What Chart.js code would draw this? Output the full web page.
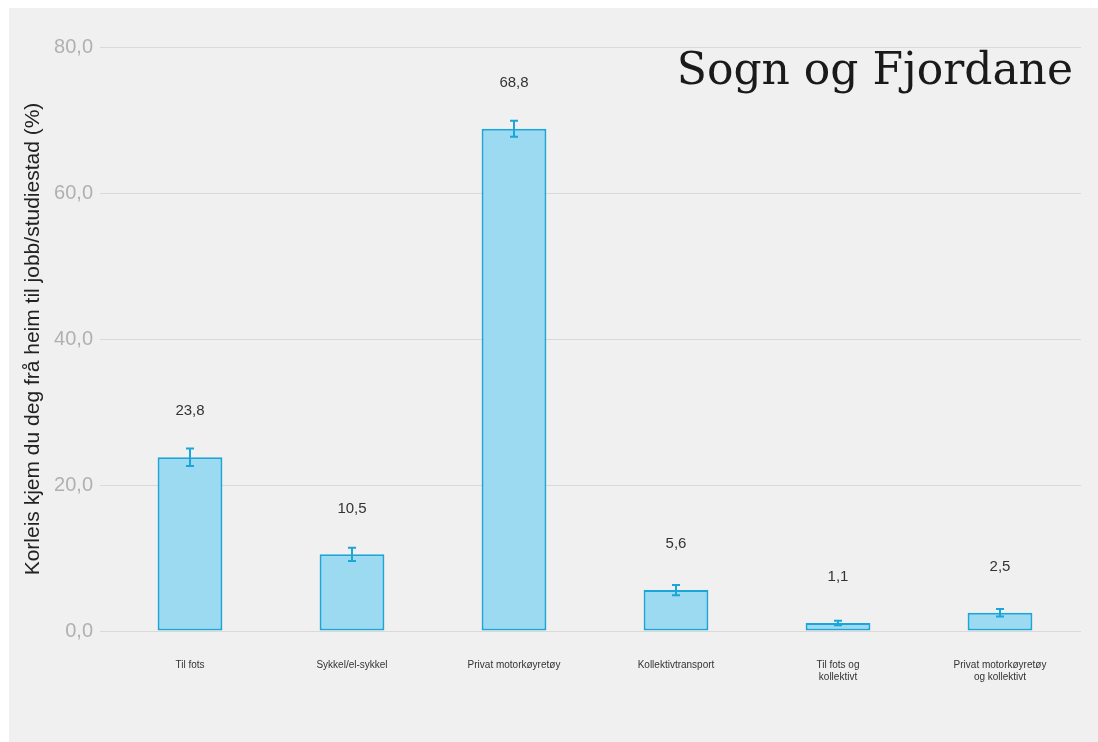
<!DOCTYPE html>
<html>
<head>
    <meta charset="utf-8">
    <script src="https://cdn.jsdelivr.net/npm/chart.js@4.4.1/dist/chart.umd.min.js"></script>
    <style>
        html, body {
            margin: 0;
            padding: 0;
            background: #ffffff;
            width: 1098px;
            height: 742px;
            overflow: hidden;
        }

        .panel {
            position: absolute;
            left: 9px;
            top: 8px;
            width: 1089px;
            height: 734px;
            background: #f0f0f0;
        }

        .title {
            position: absolute;
            right: 25px;
            top: 47px;
            font-family: "DejaVu Serif", serif;
            font-size: 44px;
            line-height: 1;
            color: #1a1a1a;
            white-space: nowrap;
        }
    </style>
</head>

<body>
    <div class="panel">
        <canvas id="chart" width="1089" height="734"></canvas>
    </div>
    <div class="title">Sogn og Fjordane</div>
    <script>
        // data
        const categories = [
            "Til fots",
            "Sykkel/el-sykkel",
            "Privat motorkøyretøy",
            "Kollektivtransport",
            ["Til fots og", "kollektivt"],
            ["Privat motorkøyretøy", "og kollektivt"]
        ];
        const shares = [23.8, 10.5, 68.8, 5.6, 1.1, 2.5];
        const errLow = [22.6, 9.6, 67.7, 4.9, 0.8, 2.0];
        const errHigh = [25.0, 11.4, 69.9, 6.3, 1.4, 3.0];
        const yTicks = [0, 20, 40, 60, 80];
        const yTitle = "Korleis kjem du deg frå heim til jobb/studiestad (%)";

        const blue = "#1ba5d8";

        function fmt(v) {
            return v.toFixed(1).replace(".", ",");
        }

        // error bars and the value labels above each bar
        const extras = {
            id: "extras",
            afterDatasetsDraw(chart) {
                const ctx = chart.ctx;
                const x = chart.scales.x;
                const y = chart.scales.y;
                ctx.save();
                ctx.strokeStyle = blue;
                ctx.lineWidth = 2;
                for (let i = 0; i < shares.length; i++) {
                    const px = x.getPixelForValue(i);
                    const top = y.getPixelForValue(errHigh[i]);
                    const bot = y.getPixelForValue(errLow[i]);
                    ctx.beginPath();
                    ctx.moveTo(px, top);
                    ctx.lineTo(px, bot);
                    ctx.moveTo(px - 4, top);
                    ctx.lineTo(px + 4, top);
                    ctx.moveTo(px - 4, bot);
                    ctx.lineTo(px + 4, bot);
                    ctx.stroke();
                }
                ctx.fillStyle = "#333333";
                ctx.font = "15px 'Liberation Sans', Arial, sans-serif";
                ctx.textAlign = "center";
                ctx.textBaseline = "middle";
                for (let i = 0; i < shares.length; i++) {
                    const px = x.getPixelForValue(i);
                    const py = y.getPixelForValue(shares[i] + 6.3);
                    ctx.fillText(fmt(shares[i]), px, py);
                }
                ctx.restore();
            }
        };

        new Chart(document.getElementById("chart").getContext("2d"), {
            type: "bar",
            data: {
                labels: categories,
                datasets: [
                    {
                        data: shares,
                        backgroundColor: "#9bdaf1",
                        borderColor: blue,
                        borderWidth: 2,
                        borderSkipped: false,
                        categoryPercentage: 1,
                        barPercentage: 0.4
                    }
                ]
            },
            options: {
                responsive: false,
                animation: false,
                events: [],
                layout: {
                    padding: { left: 8, right: 17, top: 39, bottom: 0 }
                },
                plugins: {
                    legend: { display: false },
                    tooltip: { enabled: false }
                },
                scales: {
                    x: {
                        grid: { display: false },
                        border: { display: false },
                        ticks: {
                            padding: 20,
                            maxRotation: 0,
                            autoSkip: false,
                            color: "#333333",
                            font: { family: "'Liberation Sans', Arial, sans-serif", size: 10, lineHeight: 1.2 }
                        },
                        afterFit(scale) {
                            scale.height = 111;
                        }
                    },
                    y: {
                        min: 0,
                        max: 80,
                        afterBuildTicks(scale) {
                            scale.ticks = yTicks.map(v => ({ value: v }));
                        },
                        grid: {
                            color: "#d9d9d9",
                            lineWidth: 1,
                            tickLength: 9
                        },
                        border: { display: false },
                        ticks: {
                            padding: 7,
                            color: "#b0b0b0",
                            font: { family: "'Liberation Sans', Arial, sans-serif", size: 20 },
                            callback: v => fmt(v)
                        },
                        title: {
                            display: true,
                            text: yTitle,
                            color: "#222222",
                            padding: { top: 4, bottom: 4 },
                            font: { family: "'Liberation Sans', Arial, sans-serif", size: 21 }
                        },
                        afterFit(scale) {
                            scale.width = 92;
                        }
                    }
                }
            },
            plugins: [extras]
        });
    </script>
</body>
</html>
